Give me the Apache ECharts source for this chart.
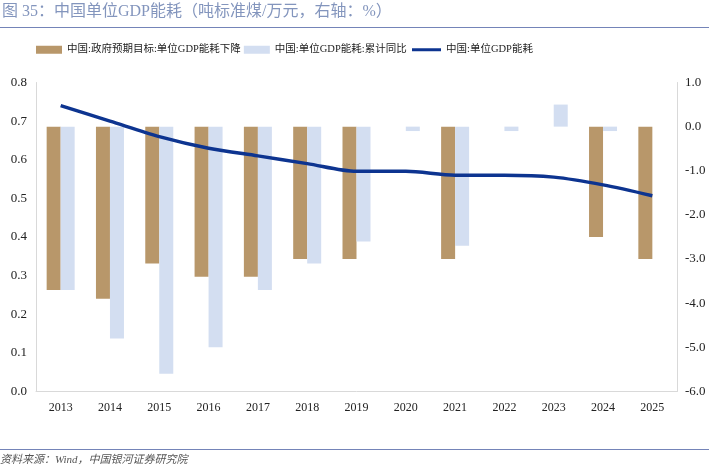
<!DOCTYPE html>
<html><head><meta charset="utf-8">
<script src="https://cdn.jsdelivr.net/npm/echarts@6/dist/echarts.min.js"></script>
<style>html,body{margin:0;padding:0;background:#fff;}#c{width:709px;height:475px;}</style>
</head><body><div id="c"></div>
<script>
const years = ['2013','2014','2015','2016','2017','2018','2019','2020','2021','2022','2023','2024','2025'];
const targetDecline = [-3.7,-3.9,-3.1,-3.4,-3.4,-3.0,-3.0,null,-3.0,null,null,-2.5,-3.0];
const cumulativeYoY = [-3.7,-4.8,-5.6,-5.0,-3.7,-3.1,-2.6,-0.1,-2.7,-0.1,0.5,-0.1,null];
const energyIntensity = [0.74,0.70,0.66,0.63,0.61,0.59,0.57,0.57,0.56,0.56,0.555,0.535,0.507];
const leftTicks = {min:0, max:0.8, interval:0.1};
const rightTicks = {min:-6, max:1, interval:1};

const FONT = '"Liberation Serif","Noto Sans CJK SC",serif';
const chart = echarts.init(document.getElementById('c'));
chart.setOption({
  backgroundColor:'#fff',
  animation:false,
  textStyle:{fontFamily:FONT},
  graphic:[
    {type:'text',left:2,top:4,style:{text:'图 35：中国单位GDP能耗（吨标准煤/万元，右轴：%）',font:'16px '+FONT,fill:'#8395bd'}},
    {type:'line',shape:{x1:0,y1:27.5,x2:709,y2:27.5},style:{stroke:'#7484b8',lineWidth:1.2}},
    {type:'line',shape:{x1:0,y1:449.5,x2:709,y2:449.5},style:{stroke:'#7484b8',lineWidth:1.2}},
    {type:'text',left:0,top:455,style:{text:'资料来源：Wind，中国银河证券研究院',font:'italic 11px '+FONT,fill:'#555'}}
  ],
  legend:[{
    left:36, top:44.5, padding:0, itemGap:3, itemWidth:26, itemHeight:8,
    textStyle:{fontFamily:FONT,fontSize:10.5,color:'#222'},
    data:[
      {name:'中国:政府预期目标:单位GDP能耗下降',icon:'rect'},
      {name:'中国:单位GDP能耗:累计同比',icon:'rect'}
    ]
  },{
    left:412, top:44.5, padding:0, itemWidth:29, itemHeight:3,
    textStyle:{fontFamily:FONT,fontSize:10.5,color:'#222'},
    data:[{name:'中国:单位GDP能耗',icon:'rect'}]
  }],
  grid:{left:36,right:32,top:82.5,bottom:83.5},
  xAxis:{
    type:'category',data:years,
    axisLine:{lineStyle:{color:'#d9d9d9'}},
    axisTick:{show:false},
    axisLabel:{color:'#222',fontSize:12,fontFamily:FONT,margin:10}
  },
  yAxis:[
    {type:'value',min:leftTicks.min,max:leftTicks.max,interval:leftTicks.interval,
     axisLine:{show:true,lineStyle:{color:'#d9d9d9'}},axisTick:{show:false},splitLine:{show:false},
     axisLabel:{color:'#222',fontSize:13,fontFamily:FONT,margin:9,formatter:v=>v.toFixed(1)}},
    {type:'value',min:rightTicks.min,max:rightTicks.max,interval:rightTicks.interval,
     axisLine:{show:true,lineStyle:{color:'#d9d9d9'}},axisTick:{show:false},splitLine:{show:false},
     axisLabel:{color:'#222',fontSize:13,fontFamily:FONT,margin:8,formatter:v=>v.toFixed(1)}}
  ],
  series:[
    {name:'中国:政府预期目标:单位GDP能耗下降',type:'bar',yAxisIndex:1,data:targetDecline,
     barWidth:14,barGap:'0%',itemStyle:{color:'#b8976a'}},
    {name:'中国:单位GDP能耗:累计同比',type:'bar',yAxisIndex:1,data:cumulativeYoY,
     barWidth:14,itemStyle:{color:'#d3def1'}},
    {name:'中国:单位GDP能耗',type:'line',yAxisIndex:0,data:energyIntensity,
     smooth:0.3,symbol:'none',lineStyle:{color:'#0d3490',width:3.5},itemStyle:{color:'#0d3490'}}
  ]
});
</script></body></html>
